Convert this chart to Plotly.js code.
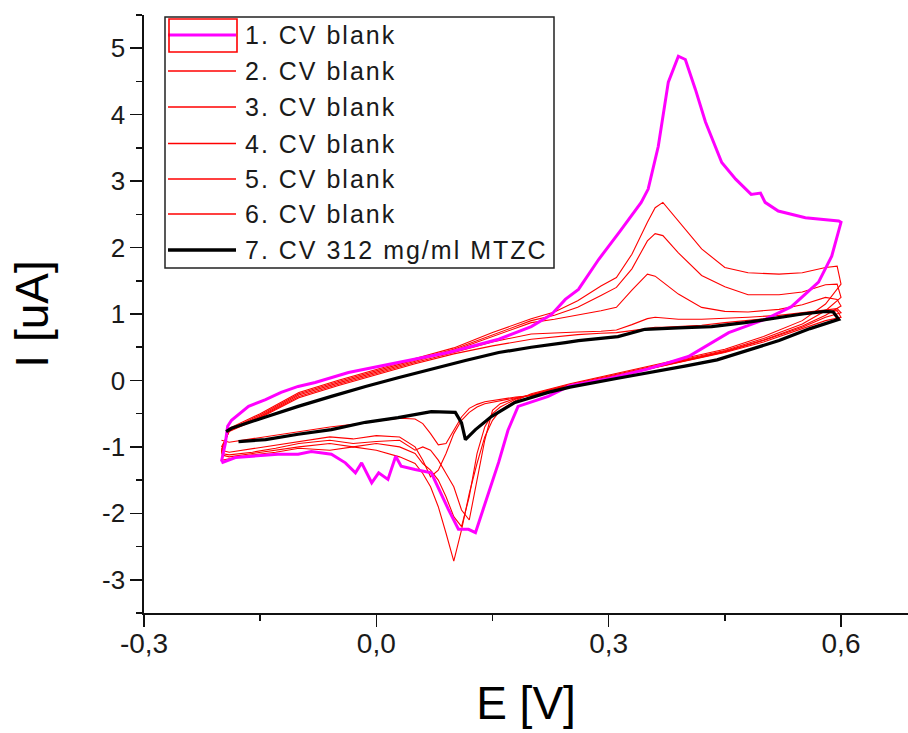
<!DOCTYPE html>
<html>
<head>
<meta charset="utf-8">
<script src="https://cdn.plot.ly/plotly-3.0.1.min.js"></script>
<style>
  html, body { margin: 0; padding: 0; background: #fff; }
  #chart { width: 908px; height: 733px; }
  .annotation-text { letter-spacing: 2px; }
</style>
</head>
<body>
<div id="chart"></div>
<script>
// ---------- DATA ----------
const seriesNames = [
  "1. CV blank", "2. CV blank", "3. CV blank", "4. CV blank",
  "5. CV blank", "6. CV blank", "7. CV 312 mg/ml MTZC"
];

// Curve 1 (magenta) – forward then reverse scan
const E1 = [-0.200,-0.195,-0.192,-0.187,-0.165,-0.143,-0.123,-0.101,-0.079,-0.036,0.028,0.093,0.158,0.200,0.226,0.244,0.261,0.287,0.315,0.342,0.351,0.364,0.377,0.390,0.399,0.412,0.425,0.446,0.464,0.484,0.496,0.502,0.519,0.554,0.597,0.600,
            0.588,0.571,0.536,0.502,0.455,0.403,0.350,0.300,0.250,0.222,0.183,0.170,0.158,0.141,0.128,0.119,0.106,0.093,0.080,0.071,0.050,0.032,0.025,0.015,0.003,-0.006,-0.019,-0.027,-0.040,-0.058,-0.084,-0.101,-0.127,-0.156,-0.182,-0.200];
const I1 = [-1.22,-0.95,-0.69,-0.60,-0.39,-0.29,-0.18,-0.09,-0.03,0.12,0.27,0.42,0.62,0.81,0.99,1.22,1.37,1.82,2.25,2.68,2.88,3.52,4.49,4.88,4.83,4.38,3.89,3.28,3.03,2.80,2.82,2.68,2.55,2.45,2.40,2.38,
            1.87,1.48,1.11,0.92,0.72,0.36,0.17,0.03,-0.08,-0.24,-0.39,-0.75,-1.23,-1.84,-2.29,-2.24,-2.24,-1.94,-1.60,-1.39,-1.34,-1.29,-1.14,-1.49,-1.39,-1.54,-1.24,-1.39,-1.24,-1.11,-1.07,-1.11,-1.11,-1.14,-1.16,-1.24];

// Curves 2-6 (red blanks) – shared potential grids
const Efwd = [-0.20,-0.19,-0.15,-0.10,-0.05,0.00,0.05,0.10,0.15,0.20,0.23,0.26,0.29,0.31,0.33,0.35,0.36,0.37,0.39,0.42,0.45,0.48,0.52,0.55,0.58,0.595,0.60];
const Erev = [0.58,0.55,0.50,0.45,0.40,0.35,0.30,0.25,0.22,0.20,0.18,0.16,0.15,0.14,0.13,0.12,0.11,0.10,0.09,0.08,0.07,0.06,0.05,0.03,0.00,-0.03,-0.06,-0.10,-0.13,-0.16,-0.19,-0.20];

const I2fwd = [-1.10,-0.72,-0.50,-0.18,0.00,0.17,0.33,0.49,0.72,0.93,1.03,1.20,1.42,1.55,1.90,2.38,2.60,2.68,2.40,1.98,1.70,1.62,1.60,1.62,1.70,1.72,1.45];
const I2rev = [1.15,0.90,0.66,0.47,0.34,0.20,0.08,-0.05,-0.14,-0.20,-0.30,-0.45,-0.60,-0.85,-1.25,-1.70,-2.25,-2.72,-2.30,-1.90,-1.60,-1.40,-1.25,-1.15,-1.05,-1.00,-1.05,-1.02,-1.08,-1.12,-1.18,-1.20];

const I3fwd = [-1.08,-0.74,-0.52,-0.20,-0.02,0.15,0.31,0.47,0.69,0.90,0.98,1.10,1.28,1.40,1.68,2.10,2.21,2.18,1.92,1.58,1.41,1.29,1.29,1.33,1.44,1.45,1.25];
const I3rev = [1.05,0.85,0.63,0.45,0.32,0.19,0.07,-0.06,-0.15,-0.21,-0.28,-0.40,-0.50,-0.70,-1.10,-1.75,-2.20,-2.05,-1.75,-1.50,-1.35,-1.25,-1.10,-1.00,-0.95,-1.00,-0.95,-1.00,-1.05,-1.10,-1.15,-1.12];

const I4fwd = [-1.06,-0.75,-0.54,-0.22,-0.04,0.13,0.29,0.45,0.66,0.87,0.92,0.98,1.05,1.10,1.36,1.60,1.57,1.48,1.30,1.10,1.04,1.03,1.07,1.14,1.25,1.22,1.12];
const I4rev = [0.98,0.82,0.61,0.44,0.31,0.18,0.06,-0.07,-0.15,-0.22,-0.27,-0.35,-0.45,-0.90,-1.50,-2.10,-1.95,-1.60,-1.40,-1.20,-1.05,-1.00,-1.05,-0.90,-0.92,-0.95,-0.90,-0.95,-1.02,-1.08,-1.12,-1.10];

const I5fwd = [-1.04,-0.76,-0.55,-0.24,-0.06,0.11,0.27,0.42,0.58,0.70,0.72,0.73,0.74,0.76,0.84,0.93,0.95,0.94,0.92,0.92,0.93,0.95,0.98,1.02,1.07,1.08,1.02];
const I5rev = [0.95,0.80,0.60,0.43,0.30,0.17,0.05,-0.08,-0.16,-0.22,-0.26,-0.30,-0.32,-0.35,-0.40,-0.48,-0.60,-0.80,-1.10,-1.35,-1.45,-1.20,-1.00,-0.85,-0.83,-0.88,-0.85,-0.92,-0.98,-1.03,-1.08,-1.05];

const I6fwd = [-1.00,-0.77,-0.56,-0.26,-0.08,0.09,0.25,0.40,0.52,0.62,0.66,0.69,0.71,0.72,0.75,0.79,0.80,0.80,0.81,0.83,0.87,0.90,0.95,0.99,1.04,1.05,0.95];
const I6rev = [0.90,0.78,0.58,0.42,0.29,0.16,0.04,-0.08,-0.17,-0.23,-0.25,-0.28,-0.30,-0.32,-0.36,-0.42,-0.55,-0.75,-0.95,-0.97,-0.80,-0.65,-0.58,-0.57,-0.62,-0.66,-0.70,-0.77,-0.83,-0.88,-0.93,-0.90];

// Curve 7 (black, 312 mg/ml MTZC)
const E7 = [-0.194,-0.187,-0.143,-0.101,-0.058,-0.014,0.028,0.071,0.115,0.158,0.200,0.244,0.261,0.312,0.347,0.390,0.433,0.476,0.519,0.550,0.580,0.590,0.597,
            0.560,0.520,0.480,0.440,0.400,0.350,0.310,0.250,0.222,0.179,0.149,0.128,0.115,0.110,0.102,0.071,0.028,-0.014,-0.058,-0.101,-0.143,-0.178];
const I7 = [-0.77,-0.72,-0.55,-0.39,-0.24,-0.09,0.04,0.17,0.30,0.42,0.50,0.57,0.60,0.66,0.77,0.79,0.81,0.87,0.95,1.00,1.04,1.03,0.92,
            0.78,0.60,0.45,0.31,0.22,0.12,0.03,-0.10,-0.18,-0.33,-0.54,-0.74,-0.89,-0.64,-0.48,-0.47,-0.56,-0.63,-0.74,-0.81,-0.89,-0.92];

const xTickVals = [-0.3, 0.0, 0.3, 0.6];
const xTickText = ["-0,3", "0,0", "0,3", "0,6"];
const yTickVals = [-3, -2, -1, 0, 1, 2, 3, 4, 5];
const yTickText = ["-3", "-2", "-1", "0", "1", "2", "3", "4", "5"];

// ---------- STYLES ----------
const MAGENTA = "#ff00ff", RED = "#ff0000", BLACK = "#000000";
const seriesColors = [MAGENTA, RED, RED, RED, RED, RED, BLACK];
const seriesWidths = [3, 1.1, 1.1, 1.1, 1.1, 1.1, 3.2];
const legendLineWidths = [3, 1.6, 1.6, 1.6, 1.6, 1.6, 3.5];

const xs = [E1,
  Efwd.concat(Erev), Efwd.concat(Erev), Efwd.concat(Erev), Efwd.concat(Erev), Efwd.concat(Erev),
  E7];
const ys = [I1,
  I2fwd.concat(I2rev), I3fwd.concat(I3rev), I4fwd.concat(I4rev), I5fwd.concat(I5rev), I6fwd.concat(I6rev),
  I7];

// draw red first, then magenta, black on top
const order = [1, 2, 3, 4, 5, 0, 6];
const traces = order.map(i => ({
  type: "scatter", mode: "lines",
  x: xs[i], y: ys[i], name: seriesNames[i],
  line: { color: seriesColors[i], width: seriesWidths[i] },
  showlegend: false, hoverinfo: "skip"
}));

// plot area in pixels
const L = 144, T = 15, W = 764, H = 598;
const px = v => (v - L) / W;
const py = v => (T + H - v) / H;

// manual legend (box, sample lines, labels)
const legY = [35, 71, 107, 143.5, 179, 214, 250];
const shapes = [
  { type: "rect", xref: "paper", yref: "paper", x0: px(165), x1: px(554), y0: py(17), y1: py(268),
    line: { color: "#222", width: 1.5 }, fillcolor: "rgba(255,255,255,1)", layer: "above" }
];
const annotations = [];
seriesNames.forEach((name, i) => {
  shapes.push({ type: "line", xref: "paper", yref: "paper",
    x0: px(168), x1: px(236), y0: py(legY[i]), y1: py(legY[i]),
    line: { color: seriesColors[i], width: legendLineWidths[i] }, layer: "above" });
  annotations.push({ xref: "paper", yref: "paper", x: px(243), y: py(legY[i]),
    xanchor: "left", yanchor: "middle", showarrow: false, text: name,
    font: { family: "Liberation Sans, Arial, sans-serif", size: 25, color: "#1a1a1a" } });
});
// selection highlight box around first legend sample
shapes.push({ type: "rect", xref: "paper", yref: "paper", x0: px(169), x1: px(237), y0: py(19), y1: py(52),
  line: { color: RED, width: 1.6 }, fillcolor: "rgba(0,0,0,0)", layer: "above" });

const layout = {
  width: 908, height: 733,
  margin: { l: L, r: 908 - L - W, t: T, b: 733 - T - H, pad: 0, autoexpand: false },
  paper_bgcolor: "#fff", plot_bgcolor: "#fff",
  showlegend: false,
  font: { family: "Liberation Sans, Arial, sans-serif", color: "#000" },
  xaxis: {
    range: [-0.3, 0.6865], tickmode: "array", tickvals: xTickVals, ticktext: xTickText,
    showgrid: false, zeroline: false, showline: true, linecolor: "#111", linewidth: 1.6,
    ticks: "outside", ticklen: 12, tickwidth: 1.6, tickcolor: "#111",
    minor: { dtick: 0.15, tick0: -0.3, ticks: "outside", ticklen: 6, tickwidth: 1.6, tickcolor: "#111", showgrid: false },
    tickfont: { size: 28, color: "#1a1a1a" }, ticklabelstandoff: -7,
    title: { text: "E [V]", font: { size: 46, color: "#000" }, standoff: 28 },
    automargin: true
  },
  yaxis: {
    range: [-3.5, 5.5], tickmode: "array", tickvals: yTickVals, ticktext: yTickText,
    showgrid: false, zeroline: false, showline: true, linecolor: "#111", linewidth: 1.6,
    ticks: "outside", ticklen: 12, tickwidth: 1.6, tickcolor: "#111",
    minor: { dtick: 0.5, tick0: 0, ticks: "outside", ticklen: 6, tickwidth: 1.6, tickcolor: "#111", showgrid: false },
    tickfont: { size: 26, color: "#1a1a1a" },
    title: { text: "I [uA]", font: { size: 46, color: "#000" }, standoff: 39 },
    automargin: true
  },
  shapes: shapes,
  annotations: annotations
};

Plotly.newPlot("chart", traces, layout, { displayModeBar: false, staticPlot: true });
</script>
</body>
</html>
